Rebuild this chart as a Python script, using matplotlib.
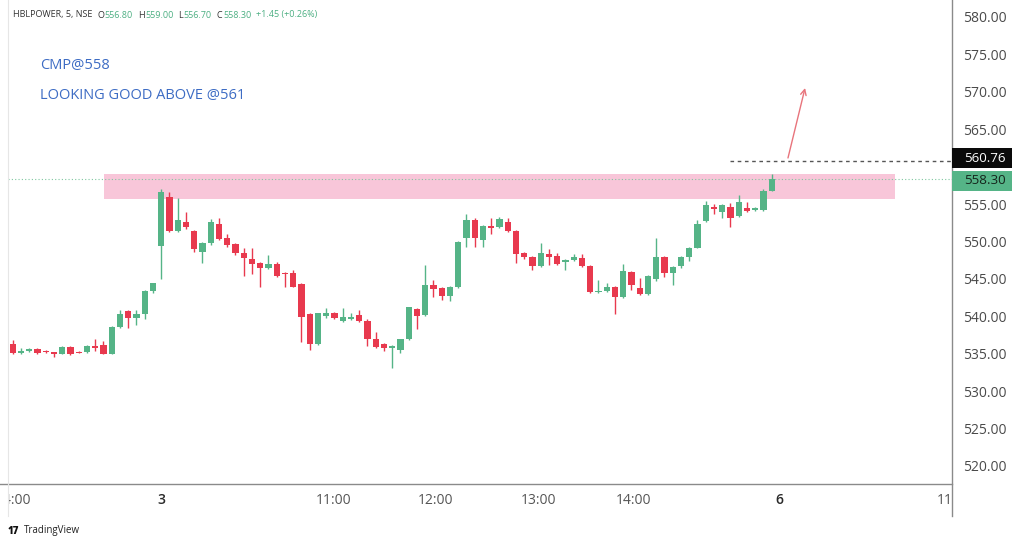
import matplotlib
matplotlib.use("Agg")
import matplotlib.pyplot as plt
from matplotlib.patches import Rectangle
from matplotlib.lines import Line2D
import matplotlib.transforms as mtransforms
import numpy as np

plt.rcParams['font.family'] = ['Open Sans', 'DejaVu Sans']

# ---- data (5-minute candles, HBLPOWER NSE) ----
opens = [536.26, 535.06, 535.30, 535.60, 535.40, 535.20, 534.96, 535.94, 535.20, 535.20,
         536.07, 536.20, 534.96, 538.60, 540.67, 539.82, 540.30, 543.40, 549.40, 555.95,
         551.44, 552.65, 551.44, 548.64, 549.84, 552.30, 550.40, 549.62, 548.46, 547.66,
         547.13, 546.42, 546.95, 545.80, 545.75, 544.32, 540.27, 536.30, 540.10, 540.50,
         539.42, 539.64, 540.18, 539.42, 536.97, 536.26, 535.80, 535.50, 536.93, 540.94,
         540.22, 544.19, 543.83, 542.76, 543.88, 550.51, 552.87, 550.24, 552.11, 551.94,
         552.56, 551.44, 548.42, 547.97, 546.77, 548.29, 548.06, 547.30, 547.53, 547.84,
         546.77, 543.20, 543.40, 543.96, 542.62, 545.88, 543.83, 542.98, 545.03, 547.97,
         545.83, 546.72, 547.89, 549.17, 552.74, 554.57, 553.98, 554.66, 553.45, 554.48,
         554.21, 554.21, 556.80]
highs = [536.80, 535.80, 535.80, 535.80, 535.50, 535.25, 536.00, 536.00, 535.30, 536.10,
         537.00, 536.70, 538.70, 540.80, 540.80, 540.80, 543.50, 544.50, 557.00, 556.65,
         555.85, 553.90, 551.60, 549.90, 553.00, 553.10, 550.96, 549.80, 549.10, 549.10,
         547.30, 548.20, 547.20, 545.90, 546.20, 544.40, 540.40, 540.50, 541.07, 540.60,
         541.07, 540.40, 540.90, 539.70, 537.95, 536.40, 536.10, 537.00, 541.30, 541.10,
         546.86, 544.85, 543.95, 544.00, 550.10, 553.63, 553.10, 552.20, 553.10, 553.30,
         553.10, 551.60, 548.60, 548.10, 549.76, 548.96, 548.40, 547.60, 548.30, 548.30,
         546.90, 544.85, 544.40, 544.10, 547.00, 546.00, 545.08, 545.50, 550.43, 548.10,
         546.70, 548.00, 549.30, 552.87, 555.45, 555.00, 555.00, 555.10, 556.21, 555.30,
         554.60, 557.00, 559.00]
lows = [535.00, 535.00, 535.20, 534.95, 535.10, 534.60, 534.90, 534.85, 535.10, 535.15,
        535.30, 534.90, 534.90, 538.50, 538.40, 538.84, 539.60, 543.10, 545.00, 551.30,
        551.30, 551.70, 548.60, 547.08, 549.50, 550.20, 549.30, 548.20, 545.43, 545.60,
        543.96, 546.30, 545.30, 543.96, 543.90, 536.60, 535.50, 536.20, 539.80, 539.60,
        539.30, 539.50, 539.20, 536.08, 535.80, 535.30, 533.05, 535.06, 536.80, 538.30,
        540.10, 542.62, 542.18, 542.10, 543.80, 549.30, 549.30, 549.30, 551.00, 551.80,
        551.30, 547.08, 547.70, 546.20, 546.60, 546.90, 546.80, 546.20, 547.40, 546.60,
        543.10, 543.10, 543.30, 540.30, 542.50, 543.50, 542.80, 542.90, 544.70, 545.30,
        544.19, 546.50, 547.40, 549.10, 552.60, 553.67, 553.10, 551.90, 553.30, 554.00,
        554.10, 554.10, 556.70]
closes = [535.06, 535.33, 535.60, 535.06, 535.20, 535.00, 535.94, 534.90, 535.15, 536.07,
          535.80, 534.96, 538.60, 540.35, 539.82, 540.35, 543.38, 544.41, 556.57, 551.44,
          552.87, 551.90, 548.96, 549.84, 552.65, 550.33, 549.53, 548.42, 547.75, 547.00,
          546.42, 546.95, 545.39, 545.60, 543.96, 539.95, 536.30, 540.44, 540.50, 539.82,
          539.87, 539.95, 539.33, 536.93, 535.94, 535.80, 535.99, 536.97, 541.25, 540.04,
          544.19, 543.65, 542.76, 543.92, 549.97, 552.87, 550.51, 552.11, 551.84, 552.97,
          551.44, 548.33, 547.89, 546.77, 548.50, 547.97, 546.95, 547.53, 547.97, 546.77,
          543.21, 543.40, 543.92, 542.62, 546.10, 544.19, 542.98, 545.39, 547.97, 545.83,
          546.63, 547.89, 549.17, 552.30, 554.84, 554.30, 554.88, 553.10, 555.28, 554.03,
          554.48, 556.79, 558.30]

zone_low, zone_high = 555.68, 559.02
zone_start, zone_end = 11.07, 106.9
last_price = 558.30
marked_level = 560.76
marked_level_start = 87.0
arrow_from = (93.97, 561.16)
arrow_to = (96.04, 570.51)

price_ticks = [520, 525, 530, 535, 540, 545, 550, 555, 560, 565, 570, 575, 580]
time_tick_pos = [0.15, 18.0, 38.9, 51.3, 63.7, 75.2, 92.9, 114.2]
time_tick_labels = ["14:00", "3", "11:00", "12:00", "13:00", "14:00", "6", "11:00"]
day_labels = {"3", "6"}

symbol = "HBLPOWER, 5, NSE"
ohlc_header = [("O", "556.80"), ("H", "559.00"), ("L", "556.70"), ("C", "558.30")]
change_text = "+1.45 (+0.26%)"
note1 = "CMP@558"
note2 = "LOOKING GOOD ABOVE @561"

UP = '#55b487'
DOWN = '#e8394e'

W, H = 1024, 544
fig = plt.figure(figsize=(W / 100, H / 100), dpi=100)
fig.patch.set_facecolor('white')
renderer = fig.canvas.get_renderer()

def fx(x):
    return x / W

def fy(y):
    return 1 - y / H

# main price pane
ax = fig.add_axes([fx(8), fy(484), fx(944), 484 / H])
ax.set_xlim(-0.57, 113.85)
ax.set_ylim(517.59, 582.27)
ax.set_facecolor('white')
for s in ax.spines.values():
    s.set_visible(False)

# pink zone
ax.add_patch(Rectangle((zone_start, zone_low), zone_end - zone_start, zone_high - zone_low,
                       facecolor='#f8c6d9', edgecolor='none', zorder=1))

# candles
o = np.array(opens); c = np.array(closes); hi = np.array(highs); lo = np.array(lows)
idx = np.arange(len(o))
colors = [UP if cc >= oo else DOWN for oo, cc in zip(o, c)]
ax.vlines(idx, lo, hi, colors=colors, linewidth=1.0, zorder=3)
bottoms = np.minimum(o, c)
heights = np.maximum(np.abs(c - o), 0.14)
ax.bar(idx, heights, bottom=bottoms, width=0.74, color=colors, linewidth=0, zorder=4)

# last price dotted line
ax.axhline(last_price, color='#7fc8a0', linestyle=(0, (1, 2)), linewidth=0.8, zorder=2)
# marked level dashed line
ax.hlines(marked_level, marked_level_start, 113.85, colors='#555555',
          linestyles=(0, (2.6, 2.6)), linewidth=1.0, zorder=2)

# arrow
ax.annotate('', xy=arrow_to, xytext=arrow_from,
            arrowprops=dict(arrowstyle='->', color='#e8747c', lw=1.0,
                            shrinkA=0, shrinkB=0, mutation_scale=10), zorder=5)

# y axis on right (labels hidden where the price boxes cover them)
ax.yaxis.tick_right()
ax.set_yticks(price_ticks)
covered = [marked_level, last_price]
ylabels = ["" if min(abs(v - cv) for cv in covered) < 2.0 else f"{v:.2f}" for v in price_ticks]
ax.set_yticklabels(ylabels, fontsize=10, color='#4a4a4a')
ax.tick_params(axis='y', length=0, pad=8)
ax.set_xticks([])

# price label boxes
bt = mtransforms.blended_transform_factory(fig.transFigure, ax.transData)
box_h = 2.75
for val, shift, fc, tc in [(marked_level, 0.38, '#0a0a0a', 'white'),
                           (last_price, -0.2, '#55b487', '#15241b')]:
    yc = val + shift
    fig.add_artist(Rectangle((fx(952), yc - box_h / 2), fx(60), box_h, transform=bt,
                             facecolor=fc, edgecolor='none', zorder=6))
    fig.text(fx(985), yc, f"{val:.2f}", transform=bt, ha='center', va='center',
             fontsize=9.6, color=tc, zorder=7)

# time axis
tax = fig.add_axes([fx(8), fy(516), fx(944), 32 / H])
tax.set_xlim(ax.get_xlim())
tax.set_ylim(0, 1)
tax.axis('off')
for pos, lab in zip(time_tick_pos, time_tick_labels):
    isday = lab in day_labels
    tax.text(pos, 0.5, lab, ha='center', va='center', fontsize=10,
             color='#2a2a2a' if isday else '#555555',
             fontweight='semibold' if isday else 'normal', clip_on=True)

# frame lines
fig.add_artist(Line2D([fx(0), fx(952)], [fy(484), fy(484)], color='#8a8a8a', lw=1.0))
fig.add_artist(Line2D([fx(952), fx(952)], [fy(0), fy(516)], color='#8a8a8a', lw=1.0))
fig.add_artist(Line2D([fx(7.5), fx(7.5)], [fy(0), fy(516)], color='#e6e6e6', lw=0.8))

# header (pieces chained by measured width)
hy = fy(15)
HS = 6.5
pieces = [(symbol, '#333333', 5)]
for k, v in ohlc_header:
    pieces.append((k, '#333333', 0.5))
    pieces.append((v, '#4caf82', 5))
pieces.append((change_text, '#4caf82', 0))
xcur = 13
for txt, col, gap in pieces:
    t = fig.text(fx(xcur), hy, txt, fontsize=HS, color=col, va='center')
    bb = t.get_window_extent(renderer)
    xcur = bb.x1 + gap

# notes
fig.text(fx(40), fy(65), note1, fontsize=10.5, color='#3d6cc4', va='center')
fig.text(fx(40), fy(96), note2, fontsize=10.5, color='#3d6cc4', va='center')

# TradingView logo
fig.text(fx(8), fy(531), "17", fontsize=7, fontweight='heavy', color='#111111', va='center')
fig.text(fx(24), fy(531), "TradingView", fontsize=7, color='#222222', va='center')

fig.savefig("out.png", dpi=100, facecolor='white')
